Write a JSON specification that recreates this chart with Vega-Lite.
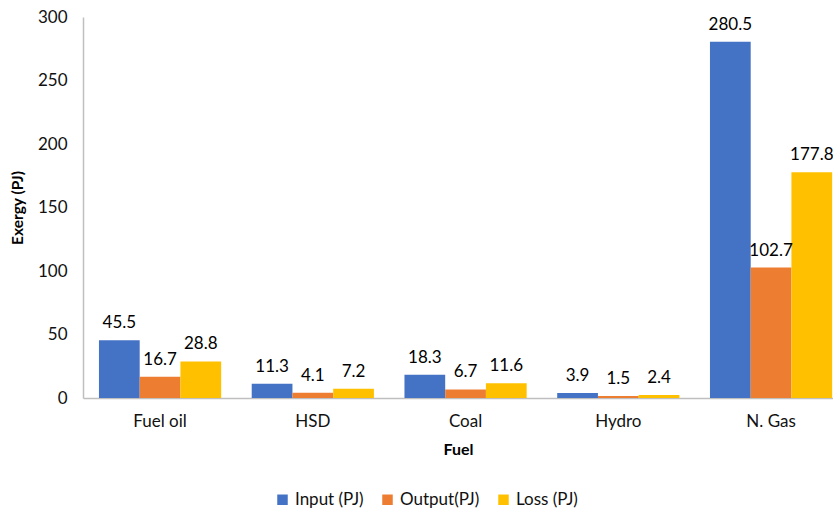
{
  "$schema": "https://vega.github.io/schema/vega-lite/v6.json",
  "width": 750,
  "height": 381,
  "autosize": {"type": "none"},
  "padding": {"left": 83, "top": 17, "right": 0, "bottom": 115},
  "background": "white",
  "config": {"view": {"stroke": null}, "font": "Lato"},
  "data": {"values": [
    {"fuel": "Fuel oil", "series": "Input (PJ)", "value": 45.5},
    {"fuel": "Fuel oil", "series": "Output(PJ)", "value": 16.7},
    {"fuel": "Fuel oil", "series": "Loss (PJ)", "value": 28.8},
    {"fuel": "HSD", "series": "Input (PJ)", "value": 11.3},
    {"fuel": "HSD", "series": "Output(PJ)", "value": 4.1},
    {"fuel": "HSD", "series": "Loss (PJ)", "value": 7.2},
    {"fuel": "Coal", "series": "Input (PJ)", "value": 18.3},
    {"fuel": "Coal", "series": "Output(PJ)", "value": 6.7},
    {"fuel": "Coal", "series": "Loss (PJ)", "value": 11.6},
    {"fuel": "Hydro", "series": "Input (PJ)", "value": 3.9},
    {"fuel": "Hydro", "series": "Output(PJ)", "value": 1.5},
    {"fuel": "Hydro", "series": "Loss (PJ)", "value": 2.4},
    {"fuel": "N. Gas", "series": "Input (PJ)", "value": 280.5},
    {"fuel": "N. Gas", "series": "Output(PJ)", "value": 102.7},
    {"fuel": "N. Gas", "series": "Loss (PJ)", "value": 177.8}
  ]},
  "encoding": {
    "x": {"field": "fuel", "type": "nominal", "sort": ["Fuel oil", "HSD", "Coal", "Hydro", "N. Gas"],
      "scale": {"paddingInner": 0.2, "paddingOuter": 0.055, "align": 0.95},
      "axis": {"title": "Fuel", "titleFontSize": 16, "titleFontWeight": "bold", "titleColor": "#000", "titlePadding": 12,
        "labelAngle": 0, "labelFontSize": 17, "labelColor": "#111", "labelPadding": 15, "ticks": false,
        "domainColor": "#bfbfbf", "domainWidth": 1.5}},
    "xOffset": {"field": "series", "type": "nominal", "sort": ["Input (PJ)", "Output(PJ)", "Loss (PJ)"]},
    "y": {"field": "value", "type": "quantitative", "scale": {"domain": [0, 300], "nice": false},
      "axis": {"title": "Exergy (PJ)", "titleFontSize": 15.5, "titleFontWeight": "bold", "titleColor": "#000", "titlePadding": 12,
        "values": [0, 50, 100, 150, 200, 250, 300], "labelFontSize": 17, "labelColor": "#111", "labelPadding": 16,
        "ticks": false, "grid": false, "domainColor": "#bfbfbf", "domainWidth": 1.5}}
  },
  "layer": [
    {"mark": {"type": "bar"},
      "encoding": {"color": {"field": "series", "type": "nominal", "sort": ["Input (PJ)", "Output(PJ)", "Loss (PJ)"],
        "scale": {"domain": ["Input (PJ)", "Output(PJ)", "Loss (PJ)"], "range": ["#4472C4", "#ED7D31", "#FFC000"]},
        "legend": {"title": null, "orient": "none", "legendX": 191, "legendY": 474, "direction": "horizontal",
          "symbolType": "square", "symbolSize": 110, "symbolStrokeWidth": 0, "labelFontSize": 17, "labelColor": "#111",
          "columnPadding": 15, "labelOffset": 4}}}},
    {"mark": {"type": "text", "baseline": "bottom", "dy": -8, "fontSize": 17, "color": "#000"},
      "encoding": {"text": {"field": "value", "type": "quantitative", "format": ".1f"}}}
  ]
}
